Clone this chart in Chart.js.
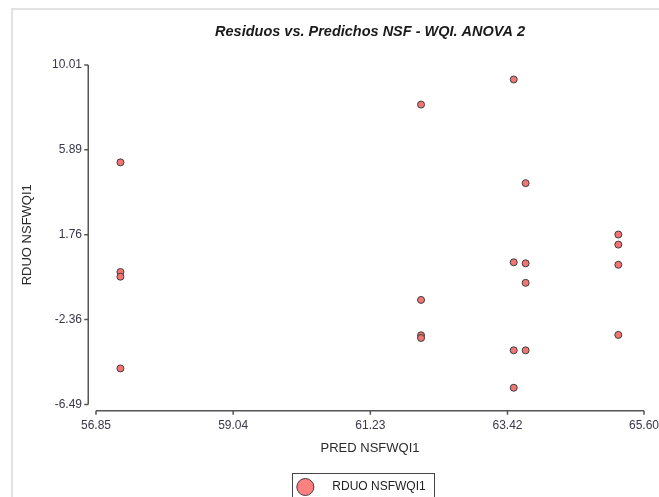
<!DOCTYPE html>
<html><head><meta charset="utf-8">
<script src="https://cdn.jsdelivr.net/npm/chart.js@4"></script>
<style>
html,body{margin:0;padding:0;background:#fff;}
#wrap{position:relative;width:659px;height:497px;overflow:hidden;}
#frame{position:absolute;left:11px;top:8px;width:700px;height:600px;border-left:2px solid #e2e2e2;border-top:2px solid #e2e2e2;}
canvas{position:absolute;left:0;top:0;}
</style></head><body>
<div id="wrap"><div id="frame"></div><canvas id="c" width="659" height="497"></canvas></div>
<script>
const chartTitle = 'Residuos vs. Predichos NSF - WQI. ANOVA 2';
const seriesName = 'RDUO NSFWQI1';
const xAxisTitle = 'PRED NSFWQI1';
const yAxisTitle = 'RDUO NSFWQI1';
const xTicks = [56.85, 59.04, 61.23, 63.42, 65.60];
const yTicks = [-6.49, -2.36, 1.76, 5.89, 10.01];
const predicted = [57.24, 57.24, 57.24, 57.24,
                   62.04, 62.04, 62.04, 62.04,
                   63.52, 63.52, 63.52, 63.52,
                   63.71, 63.71, 63.71, 63.71,
                   65.19, 65.19, 65.19, 65.19];
const residuals = [5.28, -0.05, -0.28, -4.74,
                   8.09, -1.41, -3.13, -3.26,
                   9.31, 0.42, -3.86, -5.68,
                   4.27, 0.37, -0.58, -3.86,
                   1.77, 1.28, 0.30, -3.11];

const FONT = "'Liberation Sans', Arial, sans-serif";
const POINT_FILL = 'rgb(244,116,116)';
const POINT_EDGE = '#3e3e3e';
const points = predicted.map((x, i) => ({x: x, y: residuals[i]}));

const axesPlugin = {
  id: 'detachedAxes',
  beforeDatasetsDraw(chart) {
    const {ctx, chartArea, scales: {x, y}} = chart;
    ctx.save();
    ctx.strokeStyle = '#555';
    ctx.lineWidth = 1.5;
    ctx.beginPath();
    const yx = Math.round(chartArea.left - 8) + 0.25;
    ctx.moveTo(yx, y.getPixelForValue(yTicks[yTicks.length - 1]));
    ctx.lineTo(yx, y.getPixelForValue(yTicks[0]));
    yTicks.forEach(v => { const p = y.getPixelForValue(v); ctx.moveTo(yx - 4, p); ctx.lineTo(yx, p); });
    const xy = Math.round(chartArea.bottom + 7) - 0.25;
    ctx.moveTo(x.getPixelForValue(xTicks[0]), xy);
    ctx.lineTo(x.getPixelForValue(xTicks[xTicks.length - 1]), xy);
    xTicks.forEach(v => { const p = x.getPixelForValue(v); ctx.moveTo(p, xy); ctx.lineTo(p, xy + 4); });
    ctx.stroke();
    ctx.restore();
  },
  afterDraw(chart) {
    const lg = chart.legend;
    if (!lg || !lg.legendHitBoxes || !lg.legendHitBoxes.length) return;
    const hb = lg.legendHitBoxes[0];
    const ctx = chart.ctx;
    ctx.save();
    const cy = hb.top + hb.height / 2;
    // legend marker
    ctx.beginPath();
    ctx.arc(hb.left - 9, cy, 8.5, 0, Math.PI * 2);
    ctx.fillStyle = 'rgb(255,128,128)';
    ctx.fill();
    ctx.strokeStyle = POINT_EDGE;
    ctx.lineWidth = 1;
    ctx.stroke();
    // legend frame
    ctx.strokeStyle = '#444';
    ctx.strokeRect(Math.round(hb.left - 22) + 0.5, Math.round(cy - 14) + 0.5, Math.round(hb.width + 31), 40);
    ctx.restore();
  }
};

new Chart(document.getElementById('c'), {
  type: 'scatter',
  data: {
    datasets: [{
      label: seriesName,
      data: points,
      backgroundColor: POINT_FILL,
      borderColor: POINT_EDGE,
      borderWidth: 1,
      pointRadius: 3.5,
      pointStyle: 'circle'
    }]
  },
  options: {
    responsive: false,
    animation: false,
    devicePixelRatio: 1,
    layout: {padding: {left: 0, right: 15, top: 0, bottom: -6}},
    plugins: {
      tooltip: {enabled: false},
      title: {
        display: true, text: chartTitle, fullSize: false,
        color: '#1a1a1a',
        font: {family: FONT, size: 14.5, weight: 'bold', style: 'italic'},
        padding: {top: 23, bottom: 24.7}
      },
      legend: {
        display: true, position: 'bottom', fullSize: false,
        labels: {
          boxWidth: 12, boxHeight: 12, padding: 4,
          color: '#222', font: {family: FONT, size: 12},
          generateLabels: chart => chart.data.datasets.map((ds, i) => ({
            text: ds.label, datasetIndex: i,
            fillStyle: 'rgba(0,0,0,0)', strokeStyle: 'rgba(0,0,0,0)',
            lineWidth: 0, hidden: false, fontColor: '#222'
          }))
        }
      }
    },
    scales: {
      x: {
        type: 'linear', min: 56.85, max: 65.60,
        afterBuildTicks: s => { s.ticks = xTicks.map(v => ({value: v})); },
        afterFit: s => { s.height = 72.6; s.paddingLeft = 0; s.paddingRight = 0; },
        ticks: {
          callback: v => Number(v).toFixed(2), autoSkip: false, maxRotation: 0,
          color: '#383848', font: {family: FONT, size: 12}, padding: 14
        },
        grid: {display: false, drawTicks: false},
        border: {display: false},
        title: {
          display: true, text: xAxisTitle, color: '#2a2a2a',
          font: {family: FONT, size: 13}, padding: {top: 0, bottom: 20.8}
        }
      },
      y: {
        type: 'linear', min: -6.49, max: 10.01,
        afterBuildTicks: s => { s.ticks = yTicks.map(v => ({value: v})); },
        afterFit: s => { s.width = 96; s.paddingTop = 0; s.paddingBottom = 0; },
        ticks: {
          callback: v => Number(v).toFixed(2), autoSkip: false,
          color: '#383848', font: {family: FONT, size: 12}, padding: 14
        },
        grid: {display: false, drawTicks: false},
        border: {display: false},
        title: {
          display: true, text: yAxisTitle, color: '#2a2a2a',
          font: {family: FONT, size: 13}, padding: {top: 20, bottom: 0}
        }
      }
    }
  },
  plugins: [axesPlugin]
});
</script>
</body></html>
